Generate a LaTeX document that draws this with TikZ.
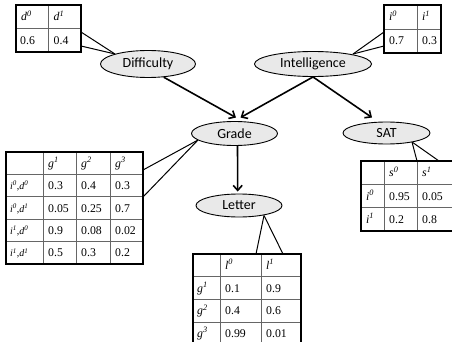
\documentclass[tikz,border=0pt]{standalone}
\usepackage{fontspec}
\setmainfont{Liberation Serif}
\newfontfamily\labelfont{Carlito}
\usetikzlibrary{arrows.meta,calc,backgrounds,shapes.geometric}
\newcommand\sv[2]{\textit{#1\textsuperscript{#2}}}
\begin{document}
\begin{tikzpicture}[x=1pt,y=-1pt,
  var/.style={ellipse, draw, line width=0.9pt, fill=gray!17, inner sep=0pt,
    font=\labelfont\fontsize{14}{16}\selectfont},
  arr/.style={line width=1.6pt, -{Straight Barb[length=5pt,width=9pt]}},
  tframe/.style={draw, line width=1.5pt, inner sep=0pt, outer sep=0pt, anchor=north west},
  gridline/.style={line width=0.8pt, black!60},
  cell/.style={anchor=base west, inner sep=0pt, font=\fontsize{11.8}{13}\selectfont},
  rlab/.style={cell, font=\fontsize{10}{12}\selectfont},
  callout/.style={line width=1pt, black}]
\useasboundingbox (0,0) rectangle (452,342);

% variable nodes
\node[var, minimum width=95pt, minimum height=27pt] (diff) at (148,64) {Difficulty};
\node[var, minimum width=117pt, minimum height=25pt] (intel) at (313,64) {Intelligence};
\node[var, minimum width=86pt, minimum height=24pt] (grade) at (234.5,133.5) {Grade};
\node[var, minimum width=87pt, minimum height=22pt] (sat) at (386.5,133) {SAT};
\node[var, minimum width=86pt, minimum height=23pt] (letter) at (239,205.5) {Letter};

% Difficulty table
\draw[gridline] (48.5,5) -- (48.5,52) (16,28.5) -- (81,28.5);
\node[tframe, minimum width=65pt, minimum height=47pt] (dtab) at (16,5) {};
\node[cell] (d-1-1) at (21,20.75) {\sv{d}{0}};
\node[cell] (d-1-2) at (53.5,20.75) {\sv{d}{1}};
\node[cell] (d-2-1) at (20,44.25) {0.6};
\node[cell] (d-2-2) at (53.5,44.25) {0.4};

% Intelligence table
\draw[gridline] (417,5) -- (417,53) (384,29) -- (441,29);
\node[tframe, minimum width=57pt, minimum height=48pt] (itab) at (384,5) {};
\node[cell] (i-1-1) at (389,21) {\sv{i}{0}};
\node[cell] (i-1-2) at (422,21) {\sv{i}{1}};
\node[cell] (i-2-1) at (389,45) {0.7};
\node[cell] (i-2-2) at (422,45) {0.3};

% Grade table
\draw[gridline] (43,152) -- (43,264) (76,152) -- (76,264) (110,152) -- (110,264)
  (6,174.4) -- (143,174.4) (6,196.8) -- (143,196.8) (6,219.2) -- (143,219.2) (6,241.6) -- (143,241.6);
\node[tframe, minimum width=137pt, minimum height=112pt] (gtab) at (6,152) {};
\node[cell] (g-1-2) at (48,167.2) {\sv{g}{1}};
\node[cell] (g-1-3) at (81,167.2) {\sv{g}{2}};
\node[cell] (g-1-4) at (115,167.2) {\sv{g}{3}};
\node[rlab] (g-2-1) at (10,189.6) {\sv{i}{0},\sv{d}{0}};
\node[rlab] (g-3-1) at (10,212) {\sv{i}{0},\sv{d}{1}};
\node[rlab] (g-4-1) at (10,234.4) {\sv{i}{1},\sv{d}{0}};
\node[rlab] (g-5-1) at (10,256.8) {\sv{i}{1},\sv{d}{1}};
\node[cell] (g-2-2) at (48,189.6) {0.3};
\node[cell] (g-2-3) at (81,189.6) {0.4};
\node[cell] (g-2-4) at (115,189.6) {0.3};
\node[cell] (g-3-2) at (48,212) {0.05};
\node[cell] (g-3-3) at (81,212) {0.25};
\node[cell] (g-3-4) at (115,212) {0.7};
\node[cell] (g-4-2) at (48,234.4) {0.9};
\node[cell] (g-4-3) at (81,234.4) {0.08};
\node[cell] (g-4-4) at (115,234.4) {0.02};
\node[cell] (g-5-2) at (48,256.8) {0.5};
\node[cell] (g-5-3) at (81,256.8) {0.3};
\node[cell] (g-5-4) at (115,256.8) {0.2};

% SAT table
\draw[gridline] (384,161) -- (384,231) (417,161) -- (417,231)
  (361,184.3) -- (453.5,184.3) (361,207.7) -- (453.5,207.7);
\node[tframe, minimum width=92.5pt, minimum height=70pt] (stab) at (361,161) {};
\node[cell] (s-1-2) at (389,176.7) {\sv{s}{0}};
\node[cell] (s-1-3) at (422,176.7) {\sv{s}{1}};
\node[cell] (s-2-1) at (366,200) {\sv{i}{0}};
\node[cell] (s-3-1) at (366,223.3) {\sv{i}{1}};
\node[cell] (s-2-2) at (389,200) {0.95};
\node[cell] (s-2-3) at (422,200) {0.05};
\node[cell] (s-3-2) at (389,223.3) {0.2};
\node[cell] (s-3-3) at (422,223.3) {0.8};

% Letter table
\draw[gridline] (220,254) -- (220,344.7) (261,254) -- (261,344.7)
  (193,276.7) -- (301,276.7) (193,299.3) -- (301,299.3) (193,322) -- (301,322);
\node[tframe, minimum width=108pt, minimum height=90.7pt] (ltab) at (193,254) {};
\node[cell] (l-1-2) at (225,269.3) {\sv{l}{0}};
\node[cell] (l-1-3) at (266,269.3) {\sv{l}{1}};
\node[cell] (l-2-1) at (197,292) {\sv{g}{1}};
\node[cell] (l-3-1) at (197,314.7) {\sv{g}{2}};
\node[cell] (l-4-1) at (197,337.3) {\sv{g}{3}};
\node[cell] (l-2-2) at (225,292) {0.1};
\node[cell] (l-2-3) at (266,292) {0.9};
\node[cell] (l-3-2) at (225,314.7) {0.4};
\node[cell] (l-3-3) at (266,314.7) {0.6};
\node[cell] (l-4-2) at (225,337.3) {0.99};
\node[cell] (l-4-3) at (266,337.3) {0.01};

% callouts
\begin{scope}[on background layer]
  \draw[callout] ($(dtab.north east)+(0,27)$) -- ($(diff.center)+(-33,-10)$);
  \draw[callout] ($(dtab.north east)+(0,41)$) -- ($(diff.center)+(-33,-10)$);
  \draw[callout] ($(itab.north west)+(0,27)$) -- ($(intel.center)+(40,-10)$);
  \draw[callout] ($(itab.north west)+(0,41)$) -- ($(intel.center)+(40,-10)$);
  \draw[callout] ($(gtab.north east)+(0,18)$) -- ($(grade.center)+(-36.5,6.5)$);
  \draw[callout] ($(gtab.north east)+(0,45)$) -- ($(grade.center)+(-36.5,6.5)$);
  \draw[callout] ($(stab.north west)+(56,0)$) -- ($(sat.center)+(25.5,9)$);
  \draw[callout] ($(stab.north west)+(78,0)$) -- ($(sat.center)+(25.5,9)$);
  \draw[callout] ($(ltab.north west)+(63,0)$) -- ($(letter.center)+(25,10)$);
  \draw[callout] ($(ltab.north west)+(90,0)$) -- ($(letter.center)+(25,10)$);
\end{scope}

% arrows
\draw[arr] (diff.-40) -- ($(grade.north)+(1.5,-3.5)$);
\draw[arr] (intel.south) -- ($(grade.north)+(6,-3.5)$);
\draw[arr] (intel.south) -- ($(sat.north)+(-14.5,-4)$);
\draw[arr] ($(grade.south)+(3,0)$) -- ($(letter.north)+(-1.3,-2)$);
\end{tikzpicture}
\end{document}
